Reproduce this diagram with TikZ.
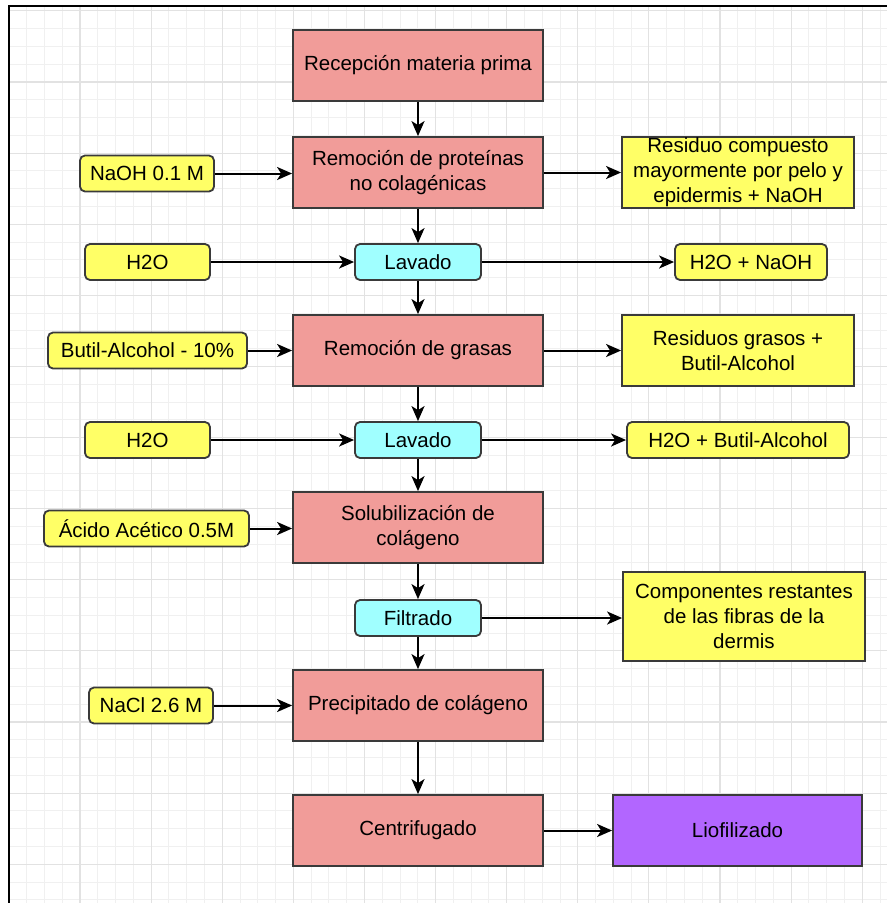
\documentclass[tikz,border=0pt]{standalone}
\usepackage{fontspec}
\setmainfont{Liberation Sans}
\usetikzlibrary{arrows.meta}
\definecolor{salmon}{HTML}{F19C99}
\definecolor{cyanbox}{HTML}{A0FFFF}
\definecolor{yellowbox}{HTML}{FFFF66}
\definecolor{purplebox}{HTML}{B266FF}
\definecolor{edge}{HTML}{3A3A3A}
\definecolor{gridminor}{HTML}{F0F0F0}
\definecolor{gridmajor}{HTML}{E2E2E2}
\begin{document}
\begin{tikzpicture}[x=1pt,y=-1pt,
  every node/.style={font=\fontsize{20.5}{25}\selectfont, align=center, inner sep=0pt, text=black},
  procbox/.style={draw=edge, line width=1.8pt, fill=salmon, minimum width=250pt, minimum height=71pt},
  washbox/.style={draw=edge, line width=1.8pt, fill=cyanbox, rounded corners=5pt, minimum width=126pt, minimum height=36pt},
  inbox/.style={draw=edge, line width=1.8pt, fill=yellowbox, rounded corners=5pt, minimum height=36pt},
  outbox/.style={draw=edge, line width=1.8pt, fill=yellowbox},
  endbox/.style={draw=edge, line width=1.8pt, fill=purplebox, minimum width=249pt, minimum height=71pt},
  flow/.style={line width=2pt, -{Stealth[length=15pt,width=13pt,inset=4pt]}}
]
\useasboundingbox (0,0) rectangle (887,903);
\fill[white] (0,0) rectangle (887,903);
% grid
\begin{scope}
\clip (9,6) rectangle (887,903);
\foreach \k in {-4,...,45} {
  \pgfmathsetmacro{\xx}{80+17.78*\k}
  \draw[gridminor, line width=1pt] (\xx,6) -- (\xx,903);
}
\foreach \k in {-4,...,46} {
  \pgfmathsetmacro{\yy}{82+17.78*\k}
  \draw[gridminor, line width=1pt] (9,\yy) -- (887,\yy);
}
\foreach \k in {-1,...,11} {
  \pgfmathsetmacro{\xx}{80+71.11*\k}
  \draw[gridmajor, line width=1.2pt] (\xx,6) -- (\xx,903);
}
\foreach \k in {-1,...,11} {
  \pgfmathsetmacro{\yy}{82+71.11*\k}
  \draw[gridmajor, line width=1.2pt] (9,\yy) -- (887,\yy);
}
\end{scope}
\draw[black, line width=2pt] (9,903) -- (9,6) -- (887,6);

% main column
\node[procbox] (rec) at (418,65.5) {Recepción materia prima};
\node[procbox] (prot) at (418,172.5) {Remoción de proteínas\\no colagénicas};
\node[washbox] (lav1) at (418,262) {Lavado};
\node[procbox] (gras) at (418,350.5) {Remoción de grasas};
\node[washbox] (lav2) at (418,440) {Lavado};
\node[procbox] (sol) at (418,527.5) {Solubilización de\\colágeno};
\node[washbox] (filt) at (418,618) {Filtrado};
\node[procbox] (prec) at (418,705.5) {Precipitado de colágeno};
\node[procbox] (cent) at (418,830.5) {Centrifugado};
\node[endbox] (lio) at (737.5,830.5) {Liofilizado};

% inputs
\node[inbox, minimum width=134pt] (naoh) at (147,173.5) {NaOH 0.1 M};
\node[inbox, minimum width=125pt] (h2oa) at (147.5,262) {H2O};
\node[inbox, minimum width=199pt] (butil) at (147.5,350.5) {Butil-Alcohol - 10\%};
\node[inbox, minimum width=125pt] (h2ob) at (147.5,440) {H2O};
\node[inbox, minimum width=205pt] (acido) at (146.5,528.5) {Ácido Acético 0.5M};
\node[inbox, minimum width=124pt] (nacl) at (151,705.5) {NaCl 2.6 M};

% outputs
\node[outbox, minimum width=232pt, minimum height=71pt] (res1) at (738,172.5) {Residuo compuesto\\mayormente por pelo y\\epidermis + NaOH};
\node[inbox, minimum width=152pt] (h2onaoh) at (751,262) {H2O + NaOH};
\node[outbox, minimum width=232pt, minimum height=71pt] (resgras) at (738,350.5) {Residuos grasos +\\Butil-Alcohol};
\node[inbox, minimum width=222pt] (h2obut) at (738,440) {H2O + Butil-Alcohol};
\node[outbox, minimum width=242pt, minimum height=89pt] (comp) at (744,616.5) {Componentes restantes\\de las fibras de la\\dermis};

% main flow
\draw[flow] (rec) -- (prot);
\draw[flow] (prot) -- (lav1);
\draw[flow] (lav1) -- (gras);
\draw[flow] (gras) -- (lav2);
\draw[flow] (lav2) -- (sol);
\draw[flow] (sol) -- (filt);
\draw[flow] (filt) -- (prec);
\draw[flow] (prec) -- (cent);
\draw[flow] (cent) -- (lio);

% input arrows
\draw[flow] (naoh.east) -- (naoh.east -| prot.west);
\draw[flow] (h2oa) -- (lav1);
\draw[flow] (butil) -- (gras);
\draw[flow] (h2ob) -- (lav2);
\draw[flow] (acido.east) -- (acido.east -| sol.west);
\draw[flow] (nacl) -- (prec);

% output arrows
\draw[flow] (prot) -- (res1);
\draw[flow] (lav1) -- (h2onaoh);
\draw[flow] (gras) -- (resgras);
\draw[flow] (lav2) -- (h2obut);
\draw[flow] (filt.east) -- (filt.east -| comp.west);
\end{tikzpicture}
\end{document}
